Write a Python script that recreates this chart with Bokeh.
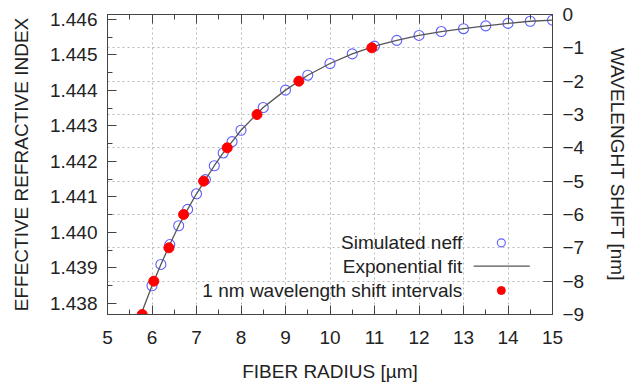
from bokeh.plotting import figure
from bokeh.models import Range1d, LinearAxis, FixedTicker, PrintfTickFormatter, Label, Grid
from bokeh.embed import file_html
from bokeh.resources import INLINE

# ---- data ----
radius_sim = [6.0, 6.2, 6.4, 6.6, 6.8, 7.0, 7.2, 7.4, 7.6, 7.8, 8.0, 8.5, 9.0, 9.5,
              10.0, 10.5, 11.0, 11.5, 12.0, 12.5, 13.0, 13.5, 14.0, 14.5, 15.0]
neff_sim = [1.43850, 1.43910, 1.43966, 1.44019, 1.44065, 1.44109, 1.44149, 1.44188,
            1.44224, 1.44256, 1.44288, 1.44352, 1.44401, 1.44443, 1.44476, 1.44503,
            1.44525, 1.44541, 1.44555, 1.44566, 1.44574, 1.44582, 1.44589, 1.44595, 1.44598]

radius_fit = [5.75, 6.0, 6.2, 6.4, 6.6, 6.8, 7.0, 7.2, 7.4, 7.6, 7.8, 8.0, 8.5, 9.0, 9.5,
              10.0, 10.5, 11.0, 11.5, 12.0, 12.5, 13.0, 13.5, 14.0, 14.5, 15.0]
neff_fit = [1.43768, 1.43850, 1.43910, 1.43966, 1.44019, 1.44065, 1.44109, 1.44149, 1.44188,
            1.44224, 1.44256, 1.44288, 1.44352, 1.44401, 1.44443, 1.44476, 1.44503,
            1.44525, 1.44541, 1.44555, 1.44566, 1.44574, 1.44582, 1.44589, 1.44595, 1.44598]

radius_shift = [5.78, 6.04, 6.38, 6.71, 7.16, 7.69, 8.36, 9.30, 10.94]
shift_nm = [-9, -8, -7, -6, -5, -4, -3, -2, -1]

x_ticks = [5, 6, 7, 8, 9, 10, 11, 12, 13, 14, 15]
x_minor_ticks = [5.5, 6.5, 7.5, 8.5, 9.5, 10.5, 11.5, 12.5, 13.5, 14.5]
neff_ticks = [1.438, 1.439, 1.440, 1.441, 1.442, 1.443, 1.444, 1.445, 1.446]
neff_minor_ticks = [1.4375, 1.4385, 1.4395, 1.4405, 1.4415, 1.4425, 1.4435, 1.4445, 1.4455]
shift_ticks = [-9, -8, -7, -6, -5, -4, -3, -2, -1, 0]

legend_labels = ["Simulated neff", "Exponential fit", "1 nm wavelength shift intervals"]

FONT = "Liberation Sans"
FS = "19px"
TXT = "#222222"
AX = "#444444"
BLUE = "#5f5fff"
RED = "#ff0000"

p = figure(width=633, height=390, x_range=Range1d(5, 15), y_range=Range1d(1.43769, 1.44614),
           output_backend="svg", toolbar_location=None,
           min_border_left=107, min_border_right=81, min_border_top=14, min_border_bottom=76)
p.extra_y_ranges = {"right": Range1d(-9, 0)}
p.outline_line_color = AX
p.background_fill_color = "white"
p.border_fill_color = "white"


def style_axis(ax):
    ax.axis_line_color = AX
    ax.major_tick_line_color = AX
    ax.minor_tick_line_color = AX
    ax.major_tick_out = 0
    ax.minor_tick_out = 0
    ax.major_tick_in = 9
    ax.minor_tick_in = 5
    ax.major_label_text_font = FONT
    ax.major_label_text_font_size = FS
    ax.major_label_text_color = TXT
    ax.axis_label_text_font = FONT
    ax.axis_label_text_font_size = FS
    ax.axis_label_text_color = TXT
    ax.axis_label_text_font_style = "normal"
    ax.major_label_standoff = 10


xa = p.xaxis[0]
style_axis(xa)
xa.ticker = FixedTicker(ticks=x_ticks, minor_ticks=x_minor_ticks)
xa.axis_label = "FIBER RADIUS [µm]"
xa.major_label_standoff = 16
xa.axis_label_standoff = 14

ya = p.yaxis[0]
style_axis(ya)
ya.ticker = FixedTicker(ticks=neff_ticks, minor_ticks=neff_minor_ticks)
ya.formatter = PrintfTickFormatter(format="%.3f")
ya.axis_label = "EFFECTIVE REFRACTIVE INDEX"
ya.axis_label_standoff = 15

# mirrored tick marks on the top border (label-free: only "minor" ticks used)
top_major = LinearAxis(ticker=FixedTicker(ticks=[], minor_ticks=x_ticks))
style_axis(top_major)
top_major.minor_tick_in = 9
top_major.major_label_standoff = 0
p.add_layout(top_major, "above")
top_minor = LinearAxis(ticker=FixedTicker(ticks=[], minor_ticks=x_minor_ticks))
style_axis(top_minor)
top_minor.minor_tick_in = 5
top_minor.major_label_standoff = 0
p.add_layout(top_minor, "above")

ra = LinearAxis(y_range_name="right", ticker=FixedTicker(ticks=shift_ticks, minor_ticks=[]))
style_axis(ra)
ra.axis_label = "WAVELENGHT SHIFT [nm]"
ra.axis_label_standoff = 20
p.add_layout(ra, "right")

# grids: vertical at x majors, horizontal at right-axis majors
p.xgrid.ticker = FixedTicker(ticks=x_ticks[1:-1])
p.xgrid.grid_line_color = "#b8b8b8"
p.xgrid.grid_line_dash = "2 3"
p.ygrid.visible = False
hg = Grid(dimension=1, ticker=FixedTicker(ticks=shift_ticks[1:-1]), y_range_name="right",
          grid_line_color="#b8b8b8", grid_line_dash="2 3")
p.add_layout(hg)

# data
p.scatter(radius_sim, neff_sim, marker="circle", size=10, fill_color=None,
          line_color=BLUE, line_width=1.1)
p.line(radius_fit, neff_fit, line_color="#555555", line_width=1.3)
p.scatter(radius_shift, shift_nm, y_range_name="right", marker="circle", size=10,
          fill_color=RED, line_color=RED)

# manual legend (gnuplot style: text right, symbol after)
leg_y = [-6.85, -7.55, -8.28]
for lab, yy in zip(legend_labels, leg_y):
    p.add_layout(Label(x=12.97, y=yy, y_range_name="right", text=lab, text_align="right",
                       text_baseline="middle", text_font=FONT, text_font_size=FS,
                       text_color=TXT))
p.scatter([13.85], [leg_y[0]], y_range_name="right", marker="circle", size=8,
          fill_color=None, line_color=BLUE, line_width=1.1)
p.line([13.23, 14.49], [leg_y[1], leg_y[1]], y_range_name="right",
       line_color="#555555", line_width=1.3)
p.scatter([13.85], [leg_y[2]], y_range_name="right", marker="circle", size=8,
          fill_color=RED, line_color=RED)

open("out.html", "w").write(file_html(p, INLINE))
